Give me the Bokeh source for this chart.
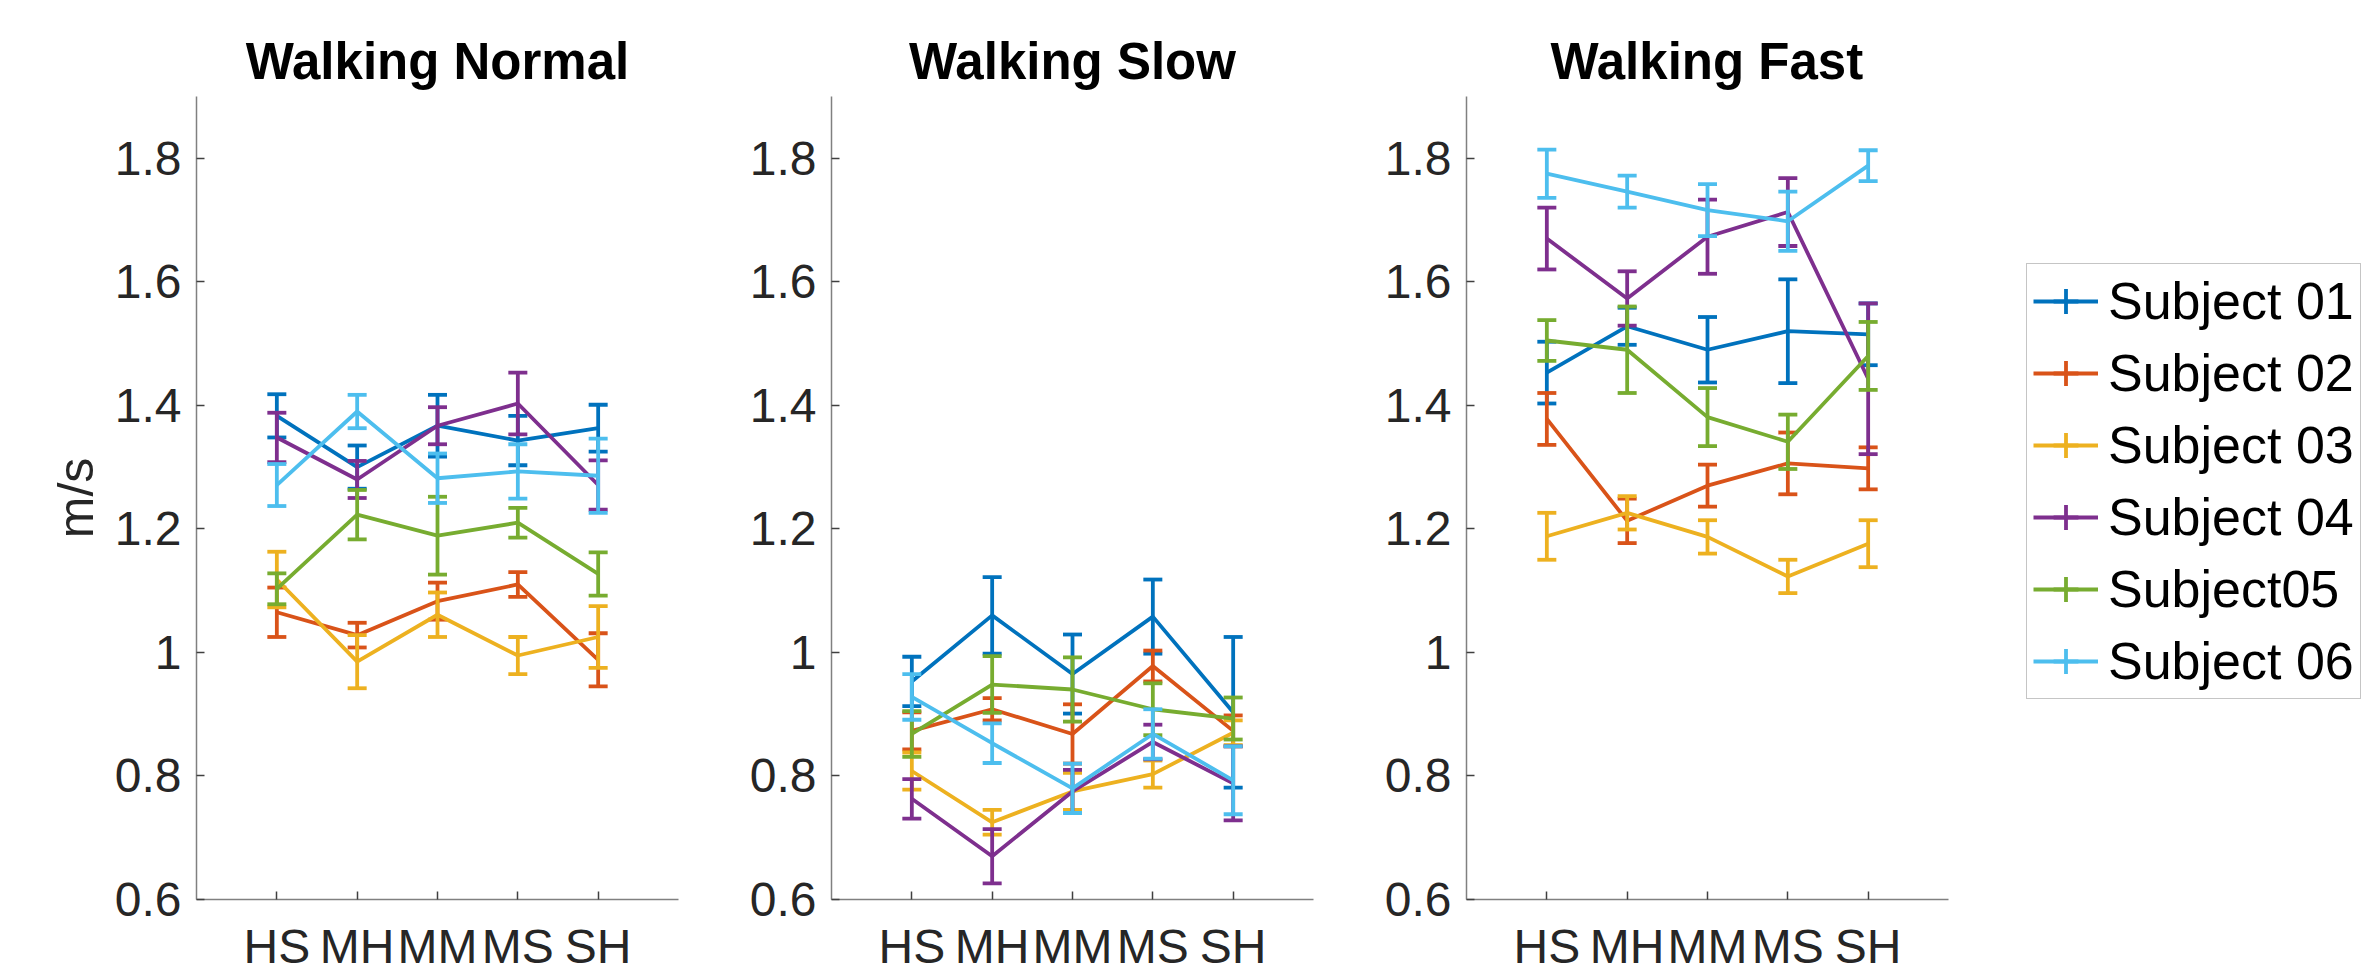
from bokeh.plotting import figure
from bokeh.layouts import row
from bokeh.models import FixedTicker, Legend, LegendItem, ColumnDataSource, Range1d
from bokeh.embed import file_html
from bokeh.resources import INLINE

# ---------------- data ----------------
categories = ["HS", "MH", "MM", "MS", "SH"]
subjects = ["Subject 01", "Subject 02", "Subject 03", "Subject 04", "Subject05", "Subject 06"]
colors = ["#0072BD", "#D95319", "#EDB120", "#7E2F8E", "#77AC30", "#4DBEEE"]
panel_titles = ["Walking Normal", "Walking Slow", "Walking Fast"]
y_ticks = [0.6, 0.8, 1.0, 1.2, 1.4, 1.6, 1.8]
y_tick_labels = ["0.6", "0.8", "1", "1.2", "1.4", "1.6", "1.8"]
y_label = "m/s"

normal_mean = [
    [1.383, 1.300, 1.367, 1.343, 1.363],
    [1.065, 1.028, 1.083, 1.110, 0.988],
    [1.118, 0.985, 1.061, 0.995, 1.025],
    [1.348, 1.280, 1.367, 1.403, 1.271],
    [1.103, 1.223, 1.189, 1.210, 1.127],
    [1.271, 1.390, 1.282, 1.293, 1.286],
]
normal_err = [
    [0.035, 0.035, 0.050, 0.040, 0.038],
    [0.040, 0.020, 0.030, 0.020, 0.043],
    [0.045, 0.043, 0.036, 0.030, 0.050],
    [0.040, 0.030, 0.030, 0.050, 0.040],
    [0.025, 0.040, 0.063, 0.024, 0.035],
    [0.034, 0.027, 0.040, 0.044, 0.060],
]
slow_mean = [
    [0.953, 1.060, 0.965, 1.058, 0.903],
    [0.873, 0.908, 0.868, 0.978, 0.873],
    [0.808, 0.725, 0.775, 0.803, 0.870],
    [0.763, 0.670, 0.775, 0.855, 0.788],
    [0.868, 0.948, 0.940, 0.908, 0.893],
    [0.928, 0.853, 0.780, 0.868, 0.793],
]
slow_err = [
    [0.040, 0.062, 0.064, 0.060, 0.122],
    [0.030, 0.018, 0.048, 0.025, 0.025],
    [0.030, 0.020, 0.030, 0.022, 0.020],
    [0.032, 0.044, 0.035, 0.028, 0.060],
    [0.037, 0.046, 0.052, 0.042, 0.034],
    [0.037, 0.032, 0.040, 0.040, 0.055],
]
fast_mean = [
    [1.453, 1.528, 1.490, 1.520, 1.515],
    [1.378, 1.213, 1.270, 1.306, 1.298],
    [1.188, 1.226, 1.187, 1.123, 1.176],
    [1.670, 1.573, 1.673, 1.713, 1.443],
    [1.505, 1.490, 1.381, 1.341, 1.480],
    [1.775, 1.746, 1.716, 1.698, 1.788],
]
fast_err = [
    [0.050, 0.030, 0.053, 0.084, 0.050],
    [0.042, 0.036, 0.034, 0.050, 0.034],
    [0.038, 0.027, 0.027, 0.027, 0.038],
    [0.050, 0.044, 0.060, 0.055, 0.122],
    [0.033, 0.070, 0.047, 0.044, 0.055],
    [0.039, 0.026, 0.042, 0.048, 0.025],
]

FONT = "Liberation Sans"
TXT = "#262626"
LW = 3.8
FRAME_W = 482
X_END = len(categories) + 1


def make_panel(title, means, errs, width, left, right, ylabel=None, legend=False):
    frame_w = width - left - right
    x_end = X_END * frame_w / FRAME_W
    p = figure(width=width, height=975, x_range=Range1d(0, x_end),
               y_range=Range1d(0.6, 1.9), output_backend="svg", toolbar_location=None,
               min_border_left=left, min_border_right=right, min_border_top=96,
               min_border_bottom=71, title=title)
    p.outline_line_color = None
    p.xgrid.visible = False
    p.ygrid.visible = False
    p.background_fill_color = "white"
    p.border_fill_color = "white"

    p.title.text_font = FONT
    p.title.text_font_size = "51px"
    p.title.text_font_style = "bold"
    p.title.text_color = "black"
    p.title.align = "center"
    p.title.standoff = 14

    xs = list(range(1, len(categories) + 1))
    for ax in (p.xaxis[0], p.yaxis[0]):
        ax.axis_line_color = "#808080"
        ax.axis_line_width = 1.5
        ax.major_tick_line_color = "#404040"
        ax.major_tick_line_width = 1.5
        ax.major_tick_in = 8
        ax.major_tick_out = 0
        ax.minor_tick_line_color = None
        ax.major_label_text_font = FONT
        ax.major_label_text_font_size = "48px"
        ax.major_label_text_color = TXT
    p.xaxis.bounds = (0, X_END)
    p.xaxis.ticker = FixedTicker(ticks=xs)
    p.xaxis.major_label_overrides = {x: c for x, c in zip(xs, categories)}
    p.xaxis.major_label_standoff = 20
    p.yaxis.ticker = FixedTicker(ticks=y_ticks)
    p.yaxis.major_label_overrides = {t: l for t, l in zip(y_ticks, y_tick_labels)}
    p.yaxis.major_label_standoff = 15
    if ylabel:
        p.yaxis.axis_label = ylabel
        p.yaxis.axis_label_text_font = FONT
        p.yaxis.axis_label_text_font_size = "50px"
        p.yaxis.axis_label_text_font_style = "normal"
        p.yaxis.axis_label_text_color = TXT
        p.yaxis.axis_label_standoff = 8

    items = []
    for name, c, m, e in zip(subjects, colors, means, errs):
        lo = [a - b for a, b in zip(m, e)]
        hi = [a + b for a, b in zip(m, e)]
        src = ColumnDataSource(dict(x=xs, y=m, lo=lo, hi=hi))
        p.segment(x0="x", y0="lo", x1="x", y1="hi", source=src, line_color=c, line_width=LW)
        p.scatter(x="x", y="lo", source=src, marker="dash", size=19, line_color=c, line_width=LW)
        p.scatter(x="x", y="hi", source=src, marker="dash", size=19, line_color=c, line_width=LW)
        lr = p.line(x="x", y="y", source=src, line_color=c, line_width=LW)
        if legend:
            # zero-size cross on the data: invisible in the plot, but drawn
            # (line + vertical bar) as the error-bar symbol inside the legend
            vr = p.scatter(x="x", y="y", source=src, marker="cross",
                           size=0, line_color=c, line_width=LW)
            items.append(LegendItem(label=name, renderers=[lr, vr]))
    if legend:
        lg = Legend(items=items, location=(560, 200), orientation="vertical")
        lg.label_text_font = FONT
        lg.label_text_font_size = "52px"
        lg.label_text_color = "black"
        lg.glyph_width = 65
        lg.glyph_height = 62
        lg.label_height = 40
        lg.label_standoff = 10
        lg.spacing = 10
        lg.padding = 6
        lg.margin = 0
        lg.title_standoff = 0
        lg.border_line_color = "#8c8c8c"
        lg.border_line_width = 1.5
        lg.background_fill_color = "white"
        lg.background_fill_alpha = 1.0
        p.add_layout(lg)
    return p


p1 = make_panel(panel_titles[0], normal_mean, normal_err, 700, 196, 22, ylabel=y_label)
p2 = make_panel(panel_titles[1], slow_mean, slow_err, 635, 131, 22)
p3 = make_panel(panel_titles[2], fast_mean, fast_err, 1034, 131, 0, legend=True)
p3.title.align = "left"
p3.title.offset = 84

layout = row(p1, p2, p3, spacing=0)
open("out.html", "w").write(file_html(layout, INLINE))
